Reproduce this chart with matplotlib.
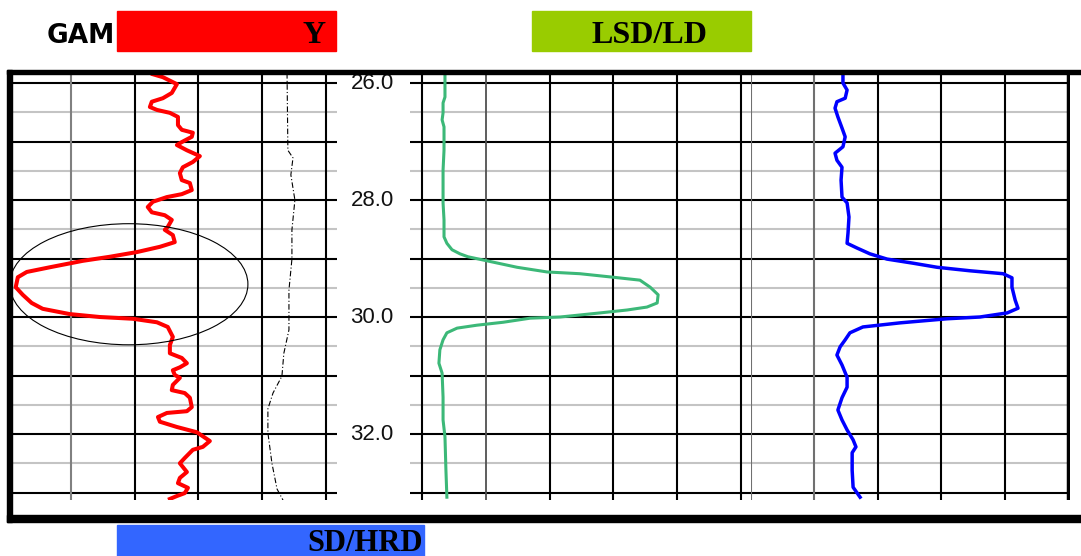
import matplotlib.pyplot as plt
from matplotlib.patches import Ellipse, Rectangle

# depth track labels
depth_labels = [26.0, 28.0, 30.0, 32.0]
grid_major = [26, 27, 28, 29, 30, 31, 32, 33]
grid_minor = [26.5, 27.5, 28.5, 29.5, 30.5, 31.5, 32.5]

# gamma ray curve (track 1)
gr_depth = [25.85, 25.90, 26.02, 26.17, 26.26, 26.32, 26.41, 26.46, 26.51, 26.58,
            26.72, 26.80, 26.85, 26.92, 27.01, 27.06, 27.15, 27.25, 27.35, 27.44,
            27.54, 27.66, 27.71, 27.83, 27.90, 27.95, 28.03, 28.12, 28.21, 28.26,
            28.34, 28.46, 28.51, 28.60, 28.72, 28.80, 28.89, 28.97, 29.04, 29.15,
            29.23, 29.32, 29.49, 29.62, 29.76, 29.86, 29.95, 30.00, 30.03, 30.09,
            30.17, 30.34, 30.48, 30.62, 30.70, 30.79, 30.86, 30.91, 30.99, 31.04,
            31.16, 31.25, 31.30, 31.38, 31.54, 31.61, 31.64, 31.71, 31.79, 31.88,
            31.97, 32.12, 32.22, 32.27, 32.41, 32.50, 32.65, 32.75, 32.84, 32.92,
            33.01, 33.06, 33.11]
gr_api = [68.6, 73.3, 79.9, 77.5, 73.3, 68.1, 67.2, 70.5, 76.6, 80.4,
          80.4, 82.2, 87.4, 86.9, 82.2, 79.9, 84.6, 90.7, 87.4, 82.7,
          81.3, 82.2, 86.0, 86.9, 82.2, 75.2, 68.6, 66.2, 68.1, 74.2,
          77.5, 75.6, 74.2, 78.0, 78.9, 71.9, 61.1, 48.4, 35.6, 20.1,
          9.3, 5.1, 4.1, 7.4, 11.6, 16.8, 29.5, 43.6, 59.2, 70.5,
          75.6, 78.0, 76.6, 76.6, 82.2, 84.6, 81.3, 78.0, 78.9, 81.3,
          78.0, 77.5, 83.6, 86.0, 86.9, 84.6, 75.2, 71.0, 71.9, 79.9,
          89.3, 95.4, 92.1, 87.4, 83.6, 81.3, 84.6, 81.3, 80.4, 85.1,
          83.6, 79.9, 76.6]

# dashed curve in track 1
cal_depth = [25.83, 27.15, 27.28, 27.57, 28.00, 28.51, 29.01, 29.54, 30.22,
             30.62, 31.01, 31.30, 31.57, 31.98, 32.50, 32.94, 33.13]
cal_val = [131.7, 132.1, 134.5, 133.5, 135.4, 134.0, 134.0, 132.6, 132.6,
           130.2, 129.3, 125.1, 122.7, 122.7, 124.6, 127.0, 129.8]

# LSD/LD curve (track 2)
ld_depth = [25.85, 26.24, 26.34, 26.51, 26.63, 26.75, 27.15, 27.49, 28.05, 28.34,
            28.63, 28.74, 28.85, 28.92, 28.97, 29.04, 29.15, 29.23, 29.26, 29.32,
            29.37, 29.49, 29.62, 29.76, 29.83, 29.88, 29.93, 30.00, 30.02, 30.09,
            30.14, 30.19, 30.27, 30.39, 30.56, 30.79, 30.96, 31.37, 31.76, 32.05,
            32.62, 33.08]
ld_val = [7.2, 7.2, 6.6, 6.6, 6.3, 6.9, 6.9, 6.6, 6.6, 6.9,
          6.9, 7.8, 9.4, 11.9, 14.4, 20.4, 29.8, 39.2, 49.5, 59.9,
          68.3, 71.5, 74.0, 73.7, 70.5, 64.3, 55.8, 43.3, 33.9, 25.4,
          17.2, 11.0, 7.8, 6.6, 5.6, 5.3, 6.3, 6.6, 6.6, 7.2,
          7.5, 7.8]

# SD/HRD curve (track 3)
hrd_depth = [25.85, 26.00, 26.12, 26.26, 26.32, 26.43, 26.58, 26.77, 26.92, 27.09,
             27.20, 27.32, 27.44, 27.66, 27.95, 28.05, 28.29, 28.56, 28.74, 28.82,
             28.92, 29.01, 29.08, 29.15, 29.21, 29.26, 29.33, 29.49, 29.71, 29.85,
             29.93, 30.00, 30.03, 30.10, 30.17, 30.27, 30.39, 30.51, 30.65, 30.82,
             31.03, 31.20, 31.38, 31.59, 31.76, 31.93, 32.10, 32.22, 32.32, 32.62,
             32.91, 33.08]
hrd_val = [29.0, 29.0, 30.3, 29.7, 27.1, 26.5, 27.4, 28.7, 29.7, 29.0,
           26.5, 27.1, 28.7, 28.4, 28.7, 30.3, 30.9, 30.6, 30.3, 33.4,
           37.5, 42.9, 51.1, 58.7, 69.1, 79.5, 82.3, 82.3, 83.3, 84.2,
           80.8, 72.2, 61.8, 47.0, 35.3, 31.2, 29.7, 28.1, 27.1, 28.7,
           30.3, 30.3, 28.7, 27.4, 28.7, 30.3, 32.2, 33.1, 31.9, 31.9,
           32.2, 34.4]

W, H = 1081, 556
fig = plt.figure(figsize=(W / 100, H / 100), dpi=100)


def add_track(left, right, top=73, bottom=500):
    ax = fig.add_axes([left / W, 1 - bottom / H, (right - left) / W, (bottom - top) / H])
    ax.set_ylim(33.128, 25.829)
    ax.axis('off')
    return ax


def hgrid(ax):
    for d in grid_minor:
        ax.axhline(d, color='#c4c4c4', lw=1.5, zorder=1)
    for d in grid_major:
        ax.axhline(d, color='black', lw=1.5, zorder=1)


# track 1: gamma ray
ax1 = add_track(7, 337)
ax1.set_xlim(0, 155.2)
hgrid(ax1)
ax1.axvline(30, color='#808080', lw=1.5, zorder=1)
for v in [60, 90, 120, 150]:
    ax1.axvline(v, color='black', lw=1.5, zorder=1)
ax1.plot(cal_val, cal_depth, color='black', lw=0.8, ls=(0, (5, 2, 1, 2)), zorder=2)
ax1.plot(gr_api, gr_depth, color='#ff0000', lw=2.9, zorder=3)
ax1.add_patch(Ellipse((57.3, 29.44), 112, 2.07, fill=False, ec='black', lw=0.8, zorder=4))

# depth track
axd = add_track(337, 410)
axd.set_xlim(0, 1)
for d in depth_labels:
    axd.text(0.48, d, f"{d:.1f}", ha='center', va='center', fontsize=16,
             family='Liberation Sans', color='#111111')

# track 2: LSD/LD
ax2 = add_track(410, 751)
ax2.set_xlim(-3.76, 103.1)
hgrid(ax2)
for v in [0, 40, 60, 80, 100]:
    ax2.axvline(v, color='black', lw=1.5, zorder=1)
ax2.axvline(20, color='#505050', lw=1.3, zorder=1)
ax2.plot(ld_val, ld_depth, color='#3cb878', lw=2.2, zorder=3)

# track 3: SD/HRD
ax3 = add_track(751, 1070)
ax3.set_xlim(0, 100.6)
hgrid(ax3)
for v in [0, 20]:
    ax3.axvline(v, color='#707070', lw=1.5, zorder=1)
for v in [40, 60, 80]:
    ax3.axvline(v, color='black', lw=1.5, zorder=1)
ax3.axvline(100, color='black', lw=2.5, zorder=1)
ax3.plot(hrd_val, hrd_depth, color='#0000ff', lw=2.5, zorder=3)

# outer frame
tf = fig.transFigure
fig.add_artist(Rectangle((7 / W, 1 - 74 / H), (W - 7) / W, 4 / H, transform=tf, color='black'))
fig.add_artist(Rectangle((7 / W, 1 - 522 / H), 5 / W, 452 / H, transform=tf, color='black'))
fig.add_artist(Rectangle((7 / W, 1 - 522 / H), (W - 7) / W, 7 / H, transform=tf, color='black'))

# header boxes
fig.text(47 / W, 1 - 43 / H, "GAM", fontsize=19, weight='bold', family='DejaVu Sans',
         color='black', zorder=1)
fig.add_artist(Rectangle((117 / W, 1 - 51 / H), 219 / W, 40 / H, transform=tf,
                         color='#ff0000', zorder=2))
fig.text(314 / W, 1 - 43 / H, "Y", fontsize=23, weight='bold', family='Liberation Serif',
         ha='center', color='black', zorder=3)

fig.add_artist(Rectangle((532 / W, 1 - 51 / H), 219 / W, 40 / H, transform=tf,
                         color='#99cc00', zorder=2))
fig.text(649 / W, 1 - 43 / H, "LSD/LD", fontsize=23, weight='bold', family='Liberation Serif',
         ha='center', color='black', zorder=3)

fig.add_artist(Rectangle((117 / W, 0), 307 / W, 31 / H, transform=tf,
                         color='#3366ff', zorder=2))
fig.text(423 / W, 1 - 551 / H, "SD/HRD", fontsize=22, weight='bold', family='Liberation Serif',
         ha='right', color='black', zorder=3)

fig.savefig('out.png', dpi=100)
